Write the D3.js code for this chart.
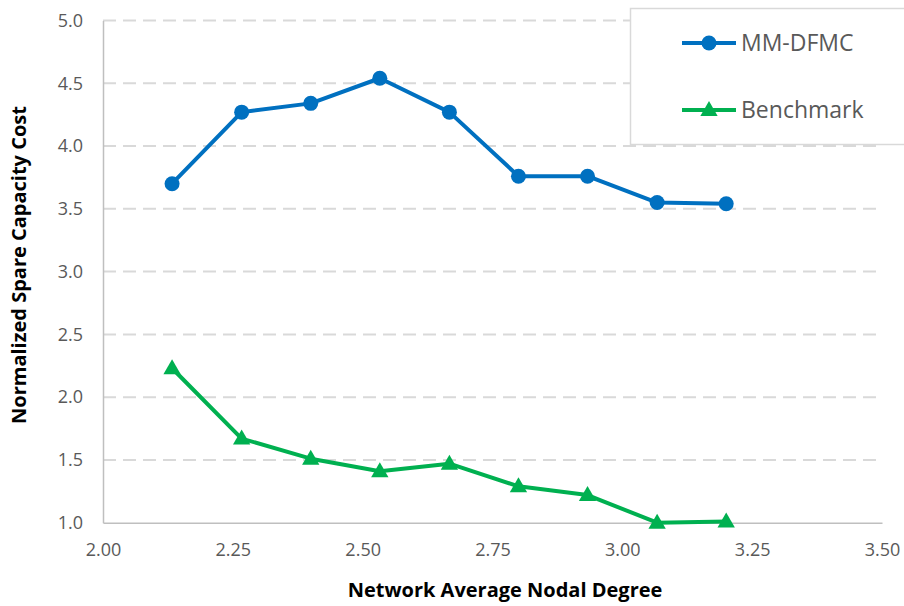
<!DOCTYPE html>
<html><head><meta charset="utf-8">
<script src="https://cdn.jsdelivr.net/npm/d3@7"></script>
<style>body{margin:0;background:#fff}svg{display:block}</style>
</head><body>
<svg id="c" width="904" height="606"></svg>
<script>
const xValues = [2.133, 2.267, 2.4, 2.533, 2.667, 2.8, 2.933, 3.067, 3.2];
const mmdfmc = [3.70, 4.27, 4.34, 4.54, 4.27, 3.76, 3.76, 3.55, 3.54];
const benchmark = [2.23, 1.67, 1.51, 1.41, 1.47, 1.29, 1.22, 1.00, 1.01];
const xTicks = [2.00, 2.25, 2.50, 2.75, 3.00, 3.25, 3.50];
const yTicks = [1.0, 1.5, 2.0, 2.5, 3.0, 3.5, 4.0, 4.5, 5.0];
const seriesNames = ["MM-DFMC", "Benchmark"];

const svg = d3.select("#c");
const L = 103, R = 882, T = 20.5, B = 522.7;
const x = d3.scaleLinear().domain([2, 3.5]).range([L, R]);
const y = d3.scaleLinear().domain([1, 5]).range([B, T]);
const font = "'Open Sans', 'Liberation Sans', sans-serif";

// gridlines
svg.append("g").selectAll("line").data(yTicks.filter(d => d > 1)).join("line")
  .attr("x1", L).attr("x2", R).attr("y1", d => y(d)).attr("y2", d => y(d))
  .attr("stroke", "#d9d9d9").attr("stroke-width", 2).attr("stroke-dasharray", "13,7");

// axes
const yAxis = svg.append("g").attr("transform", `translate(${L},0)`)
  .call(d3.axisLeft(y).tickValues(yTicks).tickFormat(d3.format(".1f")).tickSize(0).tickPadding(20));
yAxis.select(".domain").attr("stroke", "#bfbfbf").attr("stroke-width", 1.5);
yAxis.selectAll("text").attr("font-family", font).attr("font-size", 18).attr("fill", "#595959");

const xAxis = svg.append("g").attr("transform", `translate(0,${B})`)
  .call(d3.axisBottom(x).tickValues(xTicks).tickFormat(d3.format(".2f")).tickSize(0).tickPadding(21));
xAxis.select(".domain").attr("stroke", "#bfbfbf").attr("stroke-width", 1.5);
xAxis.selectAll("text").attr("font-family", font).attr("font-size", 18).attr("fill", "#595959");

// titles
svg.append("text").attr("x", 505).attr("y", 597).attr("text-anchor", "middle")
  .attr("font-family", font).attr("font-weight", "bold").attr("font-size", 20).attr("fill", "#000")
  .text("Network Average Nodal Degree");
svg.append("text").attr("transform", `translate(26,265) rotate(-90)`).attr("text-anchor", "middle")
  .attr("font-family", font).attr("font-weight", "bold").attr("font-size", 20).attr("fill", "#000")
  .text("Normalized Spare Capacity Cost");

// lines
const colors = ["#0070c0", "#00b050"];
const data = [mmdfmc, benchmark];
const line = d3.line().x((d, i) => x(xValues[i])).y(d => y(d));
const tri = d3.symbol().type(d3.symbolTriangle).size(130);
data.forEach((s, k) => {
  svg.append("path").datum(s).attr("d", line).attr("fill", "none")
    .attr("stroke", colors[k]).attr("stroke-width", 4).attr("stroke-linejoin", "round");
  if (k === 0) {
    svg.append("g").selectAll("circle").data(s).join("circle")
      .attr("cx", (d, i) => x(xValues[i])).attr("cy", d => y(d)).attr("r", 7.5).attr("fill", colors[k]);
  } else {
    svg.append("g").selectAll("path").data(s).join("path")
      .attr("d", tri).attr("transform", (d, i) => `translate(${x(xValues[i])},${y(d) + 1})`).attr("fill", colors[k]);
  }
});

// legend
const lg = svg.append("g");
lg.append("rect").attr("x", 630.5).attr("y", 8.5).attr("width", 290).attr("height", 136)
  .attr("fill", "#fff").attr("stroke", "#d9d9d9").attr("stroke-width", 1.5);
const rows = [43, 110];
seriesNames.forEach((n, k) => {
  lg.append("line").attr("x1", 682).attr("x2", 736).attr("y1", rows[k]).attr("y2", rows[k])
    .attr("stroke", colors[k]).attr("stroke-width", 4);
  if (k === 0) lg.append("circle").attr("cx", 709).attr("cy", rows[k]).attr("r", 7.5).attr("fill", colors[k]);
  else lg.append("path").attr("d", tri).attr("transform", `translate(709,${rows[k] + 1})`).attr("fill", colors[k]);
  lg.append("text").attr("x", 741).attr("y", rows[k]).attr("dy", "0.35em")
    .attr("font-family", font).attr("font-size", 23).attr("fill", "#595959").text(n);
});
</script>
</body></html>
